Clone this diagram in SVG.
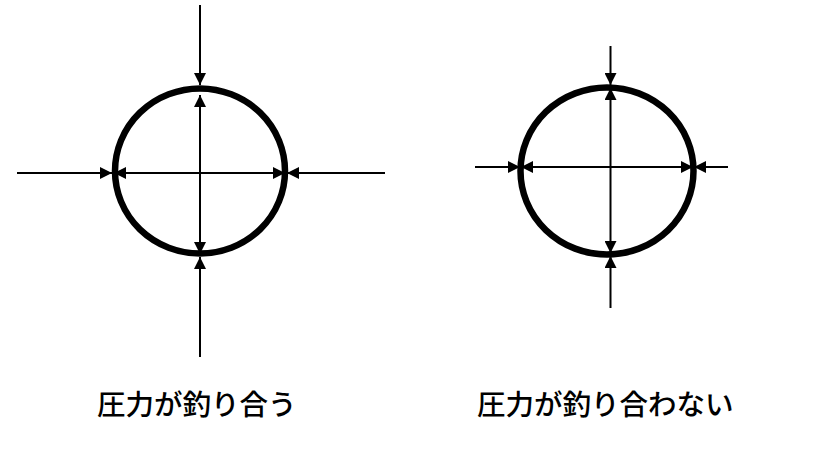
<svg xmlns="http://www.w3.org/2000/svg" width="820" height="476" viewBox="0 0 820 476">
<style>
.ring{fill:none;stroke:#000;stroke-width:6.5}
.f{stroke:#000;stroke-width:2;fill:none}
.lbl{font-family:"Noto Sans CJK JP","Noto Sans CJK SC",sans-serif;font-size:28.5px;font-weight:500;fill:#000}
</style>
<defs>
<marker id="ah" viewBox="0 0 12 12" refX="12" refY="6" markerWidth="12" markerHeight="12" markerUnits="userSpaceOnUse" orient="auto-start-reverse">
<path d="M0,0 L12,6 L0,12 Z" fill="#000"/>
</marker>
</defs>
<rect width="820" height="476" fill="#fff"/>
<g id="balanced">
<ellipse class="ring" cx="200" cy="171" rx="85" ry="82.5"/>
</g>
<g id="unbalanced">
<ellipse class="ring" cx="607" cy="171" rx="86.5" ry="83.5"/>
</g>
<g id="connectors">
<line class="f" x1="200" y1="5" x2="200" y2="85" marker-end="url(#ah)"/>
<line class="f" x1="200" y1="357" x2="200" y2="257" marker-end="url(#ah)"/>
<line class="f" x1="17" y1="173" x2="112" y2="173" marker-end="url(#ah)"/>
<line class="f" x1="385" y1="173" x2="287" y2="173" marker-end="url(#ah)"/>
<line class="f" x1="200" y1="95" x2="200" y2="254" marker-start="url(#ah)" marker-end="url(#ah)"/>
<line class="f" x1="114" y1="173" x2="285" y2="173" marker-start="url(#ah)" marker-end="url(#ah)"/>
<line class="f" x1="610.5" y1="46" x2="610.5" y2="85" marker-end="url(#ah)"/>
<line class="f" x1="610.5" y1="308" x2="610.5" y2="256" marker-end="url(#ah)"/>
<line class="f" x1="475" y1="167" x2="520" y2="167" marker-end="url(#ah)"/>
<line class="f" x1="728" y1="167" x2="694" y2="167" marker-end="url(#ah)"/>
<line class="f" x1="610.5" y1="88" x2="610.5" y2="253" marker-start="url(#ah)" marker-end="url(#ah)"/>
<line class="f" x1="521" y1="167" x2="693" y2="167" marker-start="url(#ah)" marker-end="url(#ah)"/>
</g>
<g id="labels">
<text class="lbl" x="97" y="415">圧力が釣り合う</text>
<text class="lbl" x="477" y="415">圧力が釣り合わない</text>
</g>
</svg>
